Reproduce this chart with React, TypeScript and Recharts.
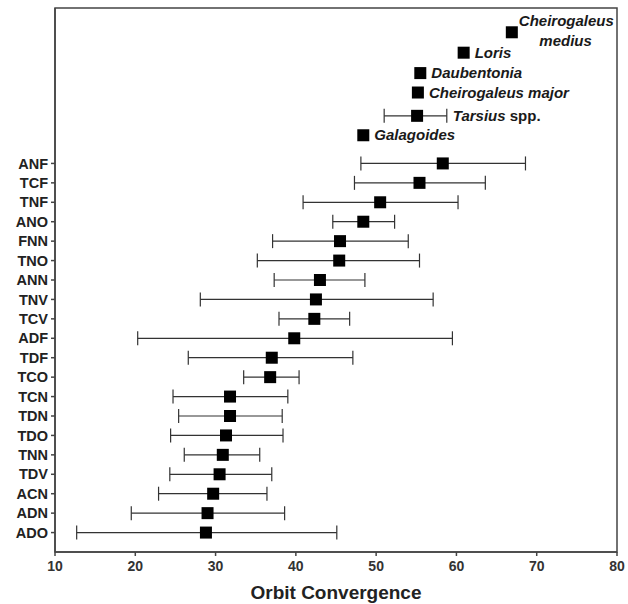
import React from "react";
import {
  ScatterChart,
  Scatter,
  XAxis,
  YAxis,
  ErrorBar,
  ReferenceArea,
  Label,
} from "recharts";

// measured groups, listed top to bottom
const groups = ["ANF", "TCF", "TNF", "ANO", "FNN", "TNO", "ANN", "TNV", "TCV", "ADF", "TDF", "TCO", "TCN", "TDN", "TDO", "TNN", "TDV", "ACN", "ADN", "ADO"];
const groupMean = [58.3, 55.4, 50.5, 48.4, 45.5, 45.4, 43.0, 42.5, 42.3, 39.8, 37.0, 36.8, 31.8, 31.8, 31.3, 30.9, 30.5, 29.7, 29.0, 28.8];
const groupLow = [48.1, 47.3, 40.9, 44.6, 37.1, 35.2, 37.3, 28.1, 37.9, 20.3, 26.6, 33.5, 24.7, 25.4, 24.4, 26.1, 24.3, 22.9, 19.5, 12.7];
const groupHigh = [68.6, 63.6, 60.2, 52.3, 54.0, 55.4, 48.6, 57.1, 46.7, 59.5, 47.1, 40.4, 39.0, 38.3, 38.4, 35.5, 37.0, 36.4, 38.6, 45.1];

// living primates shown above the groups
const species = ["Cheirogaleus medius", "Loris", "Daubentonia", "Cheirogaleus major", "Tarsius", "Galagoides"];
const speciesValue = [66.9, 60.9, 55.5, 55.2, 55.1, 48.4];
const speciesLow = [66.9, 60.9, 55.5, 55.2, 51.0, 48.4];
const speciesHigh = [66.9, 60.9, 55.5, 55.2, 58.8, 48.4];
const speciesRow = [26.75, 25.7, 24.65, 23.65, 22.45, 21.45];

const xTicks = [10, 20, 30, 40, 50, 60, 70, 80];

const groupData = groups.map((name, i) => ({
  name,
  row: groups.length - i,
  value: groupMean[i],
  err: [groupMean[i] - groupLow[i], groupHigh[i] - groupMean[i]],
}));

const speciesData = species.map((name, i) => ({
  name,
  row: speciesRow[i],
  value: speciesValue[i],
  hi: speciesHigh[i],
  err:
    speciesHigh[i] > speciesLow[i]
      ? [speciesValue[i] - speciesLow[i], speciesHigh[i] - speciesValue[i]]
      : undefined,
}));

const rowTicks = groupData.map((d) => d.row);
const rowLabel: Record<number, string> = {};
groupData.forEach((d) => (rowLabel[d.row] = d.name));

const FONT = "'Liberation Sans', Arial, sans-serif";

const Square = (props: any) => {
  const { cx, cy } = props;
  return <rect x={cx - 6} y={cy - 6} width={12} height={12} fill="#000" />;
};

// marker plus the species name in italics
const SpeciesMark = (props: any) => {
  const { cx, cy, payload } = props;
  const name: string = payload.name;
  const txt = { fontFamily: FONT, fontSize: 15, fontWeight: 700, fill: "#1a1a1a" };
  let label;
  if (name === "Cheirogaleus medius") {
    label = (
      <>
        <text x={cx + 7} y={cy - 6} {...txt} fontStyle="italic">Cheirogaleus</text>
        <text x={cx + 80} y={cy + 14} {...txt} fontStyle="italic" textAnchor="end">medius</text>
      </>
    );
  } else if (name === "Tarsius") {
    const right = cx + (payload.hi - payload.value) * 8.03;
    label = (
      <text x={right + 6} y={cy + 5} {...txt}>
        <tspan fontStyle="italic">Tarsius</tspan> spp.
      </text>
    );
  } else {
    label = (
      <text x={cx + 11} y={cy + 5} {...txt} fontStyle="italic">{name}</text>
    );
  }
  return (
    <g>
      <rect x={cx - 6} y={cy - 6} width={12} height={12} fill="#000" />
      {label}
    </g>
  );
};

export default function App() {
  return (
    <div style={{ position: "absolute", left: 0, top: 0, background: "#fff" }}>
      <ScatterChart width={628} height={604} margin={{ top: 8, right: 11, bottom: 0, left: 0 }}>
        <ReferenceArea x1={10} x2={80} y1={0} y2={28} fill="none" stroke="#444" strokeWidth={1.5} ifOverflow="visible" />
        <XAxis
          type="number"
          dataKey="value"
          domain={[10, 80]}
          ticks={xTicks}
          height={52}
          stroke="#444"
          strokeWidth={1.5}
          tickSize={4}
          tickMargin={5}
          tick={{ fontFamily: FONT, fontSize: 14, fontWeight: 700, fill: "#333" }}
          allowDataOverflow
        >
          <Label
            value="Orbit Convergence"
            position="insideBottom"
            offset={5}
            style={{ fontFamily: FONT, fontSize: 19, fontWeight: 700, fill: "#222" }}
          />
        </XAxis>
        <YAxis
          type="number"
          dataKey="row"
          domain={[0, 28]}
          ticks={rowTicks}
          interval={0}
          width={55}
          stroke="#444"
          strokeWidth={1.5}
          tickSize={4}
          tickMargin={3}
          tickFormatter={(v: number) => rowLabel[v] ?? ""}
          tick={{ fontFamily: FONT, fontSize: 14.5, fontWeight: 700, fill: "#222" }}
          allowDataOverflow
        />
        <Scatter data={groupData} shape={<Square />} isAnimationActive={false}>
          <ErrorBar dataKey="err" direction="x" width={7} stroke="#333" strokeWidth={1.2} />
        </Scatter>
        <Scatter data={speciesData} shape={<SpeciesMark />} isAnimationActive={false}>
          <ErrorBar dataKey="err" direction="x" width={7} stroke="#333" strokeWidth={1.2} />
        </Scatter>
      </ScatterChart>
    </div>
  );
}
